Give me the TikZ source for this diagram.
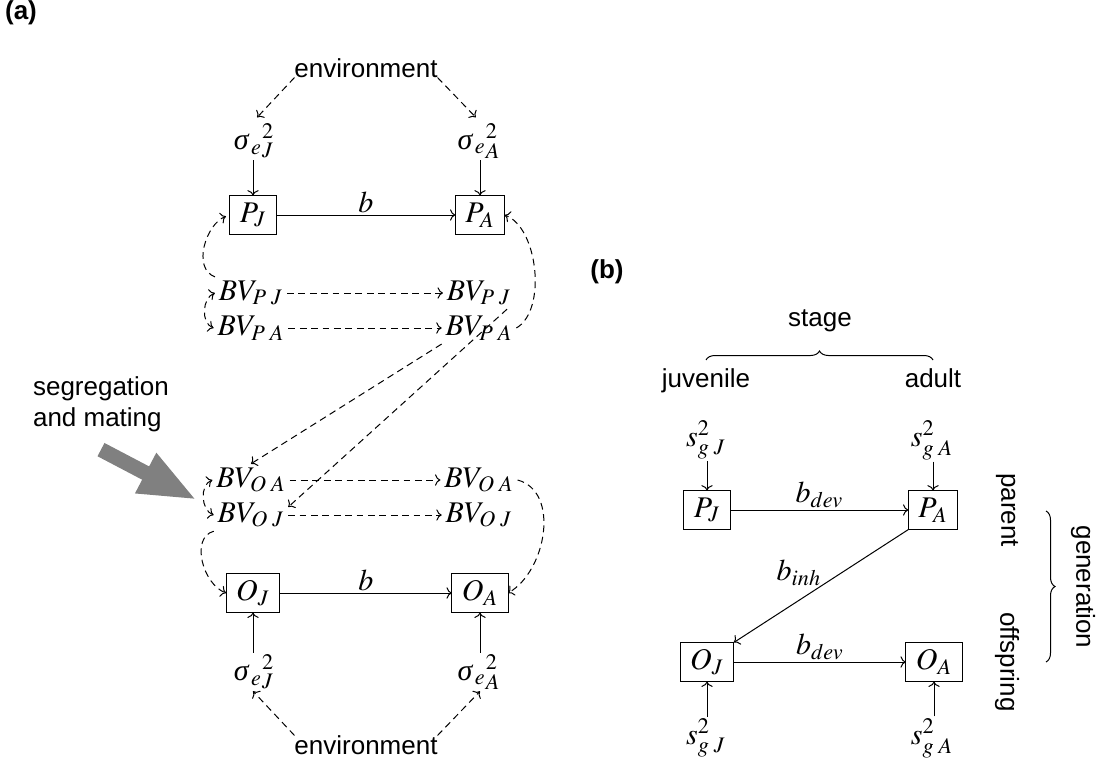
\documentclass[tikz,border=0pt]{standalone}
\usepackage[no-math]{fontspec}
\usepackage{mathptmx}
\newfontfamily\labelfont{Liberation Sans}
\newfontfamily\greekfont{Liberation Serif}
\newcommand\itsigma{\mbox{\greekfont\itshape σ}}
\usetikzlibrary{arrows.meta,decorations.pathreplacing,calc}

\begin{document}
\begin{tikzpicture}[x=0.5pt,y=-0.5pt,
  every node/.style={inner sep=0pt, outer sep=0pt, font=\fontsize{15}{18}\selectfont},
  lbl/.style={font=\labelfont\fontsize{13}{15.5}\selectfont},
  panel/.style={font=\labelfont\bfseries\fontsize{13}{15.5}\selectfont},
  mth/.style={inner sep=1pt},
  bv/.style={inner sep=2pt},
  box/.style={draw, line width=0.5pt, inner xsep=5pt, minimum height=19.5pt},
  link/.style={line width=0.5pt, ->},
  dlink/.style={link, dash pattern=on 3.4pt off 2.3pt},
  brace/.style={line width=0.5pt, decorate, decoration={brace, amplitude=4.5pt}},
  bigarrow/.style={gray, line width=7.5pt, -{Triangle[length=29pt,width=20.5pt]}}
]
\useasboundingbox (0,0) rectangle (1102,760);

% ---------------- panel (a): breeding values and phenotypes ----------------
\node[panel] (la) at (21,13) {(a)};

\node[lbl] (envT) at (366,68) {environment};
\node[mth] (sJt) at (254,141) {$\itsigma_{\,e}{}^{2}_{J}$};
\node[mth] (sAt) at (479,141) {$\itsigma_{\,e}{}^{2}_{A}$};

\node[box] (PJ) at (253,215) {$P_J$};
\node[box] (PA) at (480,215) {$P_A$};

\node[bv] (BVPJl) at (251,293) {$BV_{P\;J}$};
\node[bv] (BVPJr) at (479,293) {$BV_{P\;J}$};
\node[bv] (BVPAl) at (251,328) {$BV_{P\;A}$};
\node[bv] (BVPAr) at (479,328) {$BV_{P\;A}$};

\node[bv] (BVOAl) at (251,480) {$BV_{O\;A}$};
\node[bv] (BVOAr) at (479,480) {$BV_{O\;A}$};
\node[bv] (BVOJl) at (251,515) {$BV_{O\;J}$};
\node[bv] (BVOJr) at (479,515) {$BV_{O\;J}$};

\node[box] (OJ) at (253,593) {$O_J$};
\node[box] (OA) at (480,593) {$O_A$};

\node[mth] (sJb) at (254,672) {$\itsigma_{\,e}{}^{2}_{J}$};
\node[mth] (sAb) at (479,672) {$\itsigma_{\,e}{}^{2}_{A}$};
\node[lbl] (envB) at (366,745) {environment};

\node[lbl, align=left] (seg) at (101,404) {segregation\\and mating};
\coordinate (segtip) at (197,500);
\draw[bigarrow] ($(seg.south)+(0,18)$) -- (segtip);

% environmental variances
\draw[dlink, shorten >=3pt] (envT.south west) -- (sJt.north -| PJ.north);
\draw[dlink, shorten >=3pt] (envT.south east) -- (sAt.north -| PA.north);
\draw[link] (sJt.south -| PJ.north) -- (PJ.north);
\draw[link] (sAt.south -| PA.north) -- (PA.north);
\draw[dlink] (envB.north west) -- (sJb.south -| OJ.south);
\draw[dlink] (envB.north east) -- (sAb.south -| OA.south);
\draw[link] (sJb.north -| OJ.south) -- (OJ.south);
\draw[link] (sAb.north -| OA.south) -- (OA.south);

% development within each generation
\draw[link] (PJ) -- node[above=1pt] {$b$} (PA);
\draw[link] (OJ) -- node[above=1pt] {$b$} (OA);

% parental breeding values
\draw[dlink, shorten >=2pt] (BVPJl.north west) to[out=160, in=200] (PJ.west);
\draw[dlink, <->] (BVPJl.west) to[out=200, in=160] (BVPAl.west);
\draw[dlink] (BVPJl) -- (BVPJr);
\draw[dlink] (BVPAl) -- (BVPAr);
\draw[dlink] (BVPAr.east) to[out=30, in=-20, looseness=0.8] (PA.east);

% transmission to offspring
\draw[dlink] (BVPAr.south west) -- (BVOAl.north);
\draw[dlink] ([xshift=-4pt]BVPJr.south east) -- ([yshift=4pt]BVOJl.east);

% offspring breeding values
\draw[dlink, <->] (BVOAl.west) to[out=200, in=160] (BVOJl.west);
\draw[dlink] (BVOAl) -- (BVOAr);
\draw[dlink] (BVOJl) -- (BVOJr);
\draw[dlink] (BVOJl.south west) to[out=195, in=160] (OJ.west);
\draw[dlink] (BVOAr.east) to[out=-15, in=30] (OA.east);

% ---------------- panel (b): stage by generation ----------------
\node[panel] (lb) at (607,272) {(b)};

\node[lbl, anchor=base] (stage) at (820,326) {stage};
\node[lbl, anchor=base] (juv) at (706,387) {juvenile};
\node[lbl, anchor=base] (adult) at (933,387) {adult};
\draw[brace] (juv.center |- 0,360) -- (adult.center |- 0,360);

\node[mth] (gJ1) at (706,440) {$s^{2}_{g\;J}$};
\node[mth] (gA1) at (932,440) {$s^{2}_{g\;A}$};
\node[box] (PJb) at (707,510) {$P_J$};
\node[box] (PAb) at (933,510) {$P_A$};
\node[box] (OJb) at (707,662) {$O_J$};
\node[box] (OAb) at (934,662) {$O_A$};
\node[mth] (gJ2) at (706,738) {$s^{2}_{g\;J}$};
\node[mth] (gA2) at (932,738) {$s^{2}_{g\;A}$};

\draw[link] (gJ1.south -| PJb.north) -- (PJb.north);
\draw[link] (gA1.south -| PAb.north) -- (PAb.north);
\draw[link] (gJ2.north -| OJb.south) -- (OJb.south);
\draw[link] (gA2.north -| OAb.south) -- (OAb.south);

\draw[link] (PJb) -- node[above=1pt] {$b_{dev}$} (PAb);
\draw[link] (OJb) -- node[above=1pt] {$b_{dev}$} (OAb);
\draw[link] (PAb.south west) -- node[midway, above left=0pt] {$b_{inh}$} (OJb.north east);

\node[lbl, rotate=-90] (parent) at (1007,510) {parent};
\node[lbl, rotate=-90] (offspring) at (1007,662) {offspring};
\draw[brace] (1046,511) -- (1046,662);
\node[lbl, rotate=-90] (generation) at (1083,587) {generation};
\end{tikzpicture}
\end{document}
